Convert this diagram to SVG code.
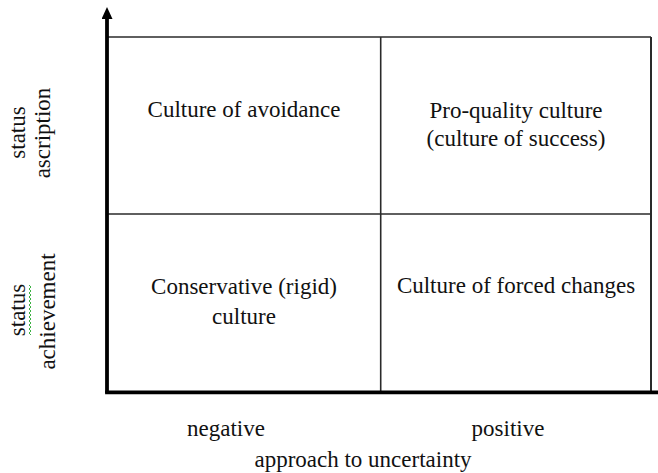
<svg xmlns="http://www.w3.org/2000/svg" width="658" height="473" viewBox="0 0 658 473">
  <style>
    text { font-family: "Liberation Serif", "Times New Roman", serif; font-size: 23px; fill: #111; }
    .mid { text-anchor: middle; }
    .grid { stroke: #2a2a2a; stroke-width: 1.6; fill: none; }
    .axis { stroke: #000; stroke-width: 3.8; fill: none; }
  </style>
  <defs>
    <marker id="arrow" viewBox="0 0 12 11" refX="2" refY="5.5" markerWidth="12" markerHeight="11" markerUnits="userSpaceOnUse" orient="auto">
      <path d="M0,0 L12,5.5 L0,11 Z" fill="#000"/>
    </marker>
  </defs>
  <rect width="658" height="473" fill="#fff"/>

  <g id="connectors">
    <!-- quadrant grid -->
    <line class="grid" x1="107" y1="37" x2="651" y2="37"/>
    <line class="grid" x1="651" y1="37" x2="651" y2="392" style="stroke-width:2"/>
    <line class="grid" x1="380.7" y1="37" x2="380.7" y2="392"/>
    <line class="grid" x1="107" y1="214" x2="651" y2="214"/>
    <!-- axes -->
    <line class="axis" x1="107" y1="393" x2="107" y2="17" marker-end="url(#arrow)"/>
    <line class="axis" x1="105.1" y1="392.3" x2="658" y2="392.3"/>
  </g>

  <g id="q-avoidance">
    <text class="mid" x="244" y="117">Culture of avoidance</text>
  </g>
  <g id="q-pro-quality">
    <text class="mid" x="516" y="118">Pro-quality culture</text>
    <text class="mid" x="516" y="146">(culture of success)</text>
  </g>
  <g id="q-conservative">
    <text class="mid" x="244" y="294">Conservative (rigid)</text>
    <text class="mid" x="244" y="324">culture</text>
  </g>
  <g id="q-forced">
    <text class="mid" x="516" y="293">Culture of forced changes</text>
  </g>

  <g id="y-labels">
    <text class="mid" transform="translate(25,132.5) rotate(-90)">status</text>
    <text class="mid" transform="translate(50,133) rotate(-90)">ascription</text>
    <text class="mid" transform="translate(25,310) rotate(-90)">status</text>
    <!-- spell-check squiggle beside the lower "status" -->
    <path d="M29,285 l2,2 l-2,2 l2,2 l-2,2 l2,2 l-2,2 l2,2 l-2,2 l2,2 l-2,2 l2,2 l-2,2 l2,2 l-2,2 l2,2 l-2,2 l2,2 l-2,2 l2,2 l-2,2 l2,2 l-2,2 l2,2 l-2,2 l2,2" fill="none" stroke="#3cb043" stroke-width="1"/>
    <text class="mid" transform="translate(55,311.5) rotate(-90)">achievement</text>
  </g>

  <g id="x-labels">
    <text class="mid" x="226" y="436">negative</text>
    <text class="mid" x="508" y="436">positive</text>
    <text class="mid" x="363" y="467">approach to uncertainty</text>
  </g>
</svg>
